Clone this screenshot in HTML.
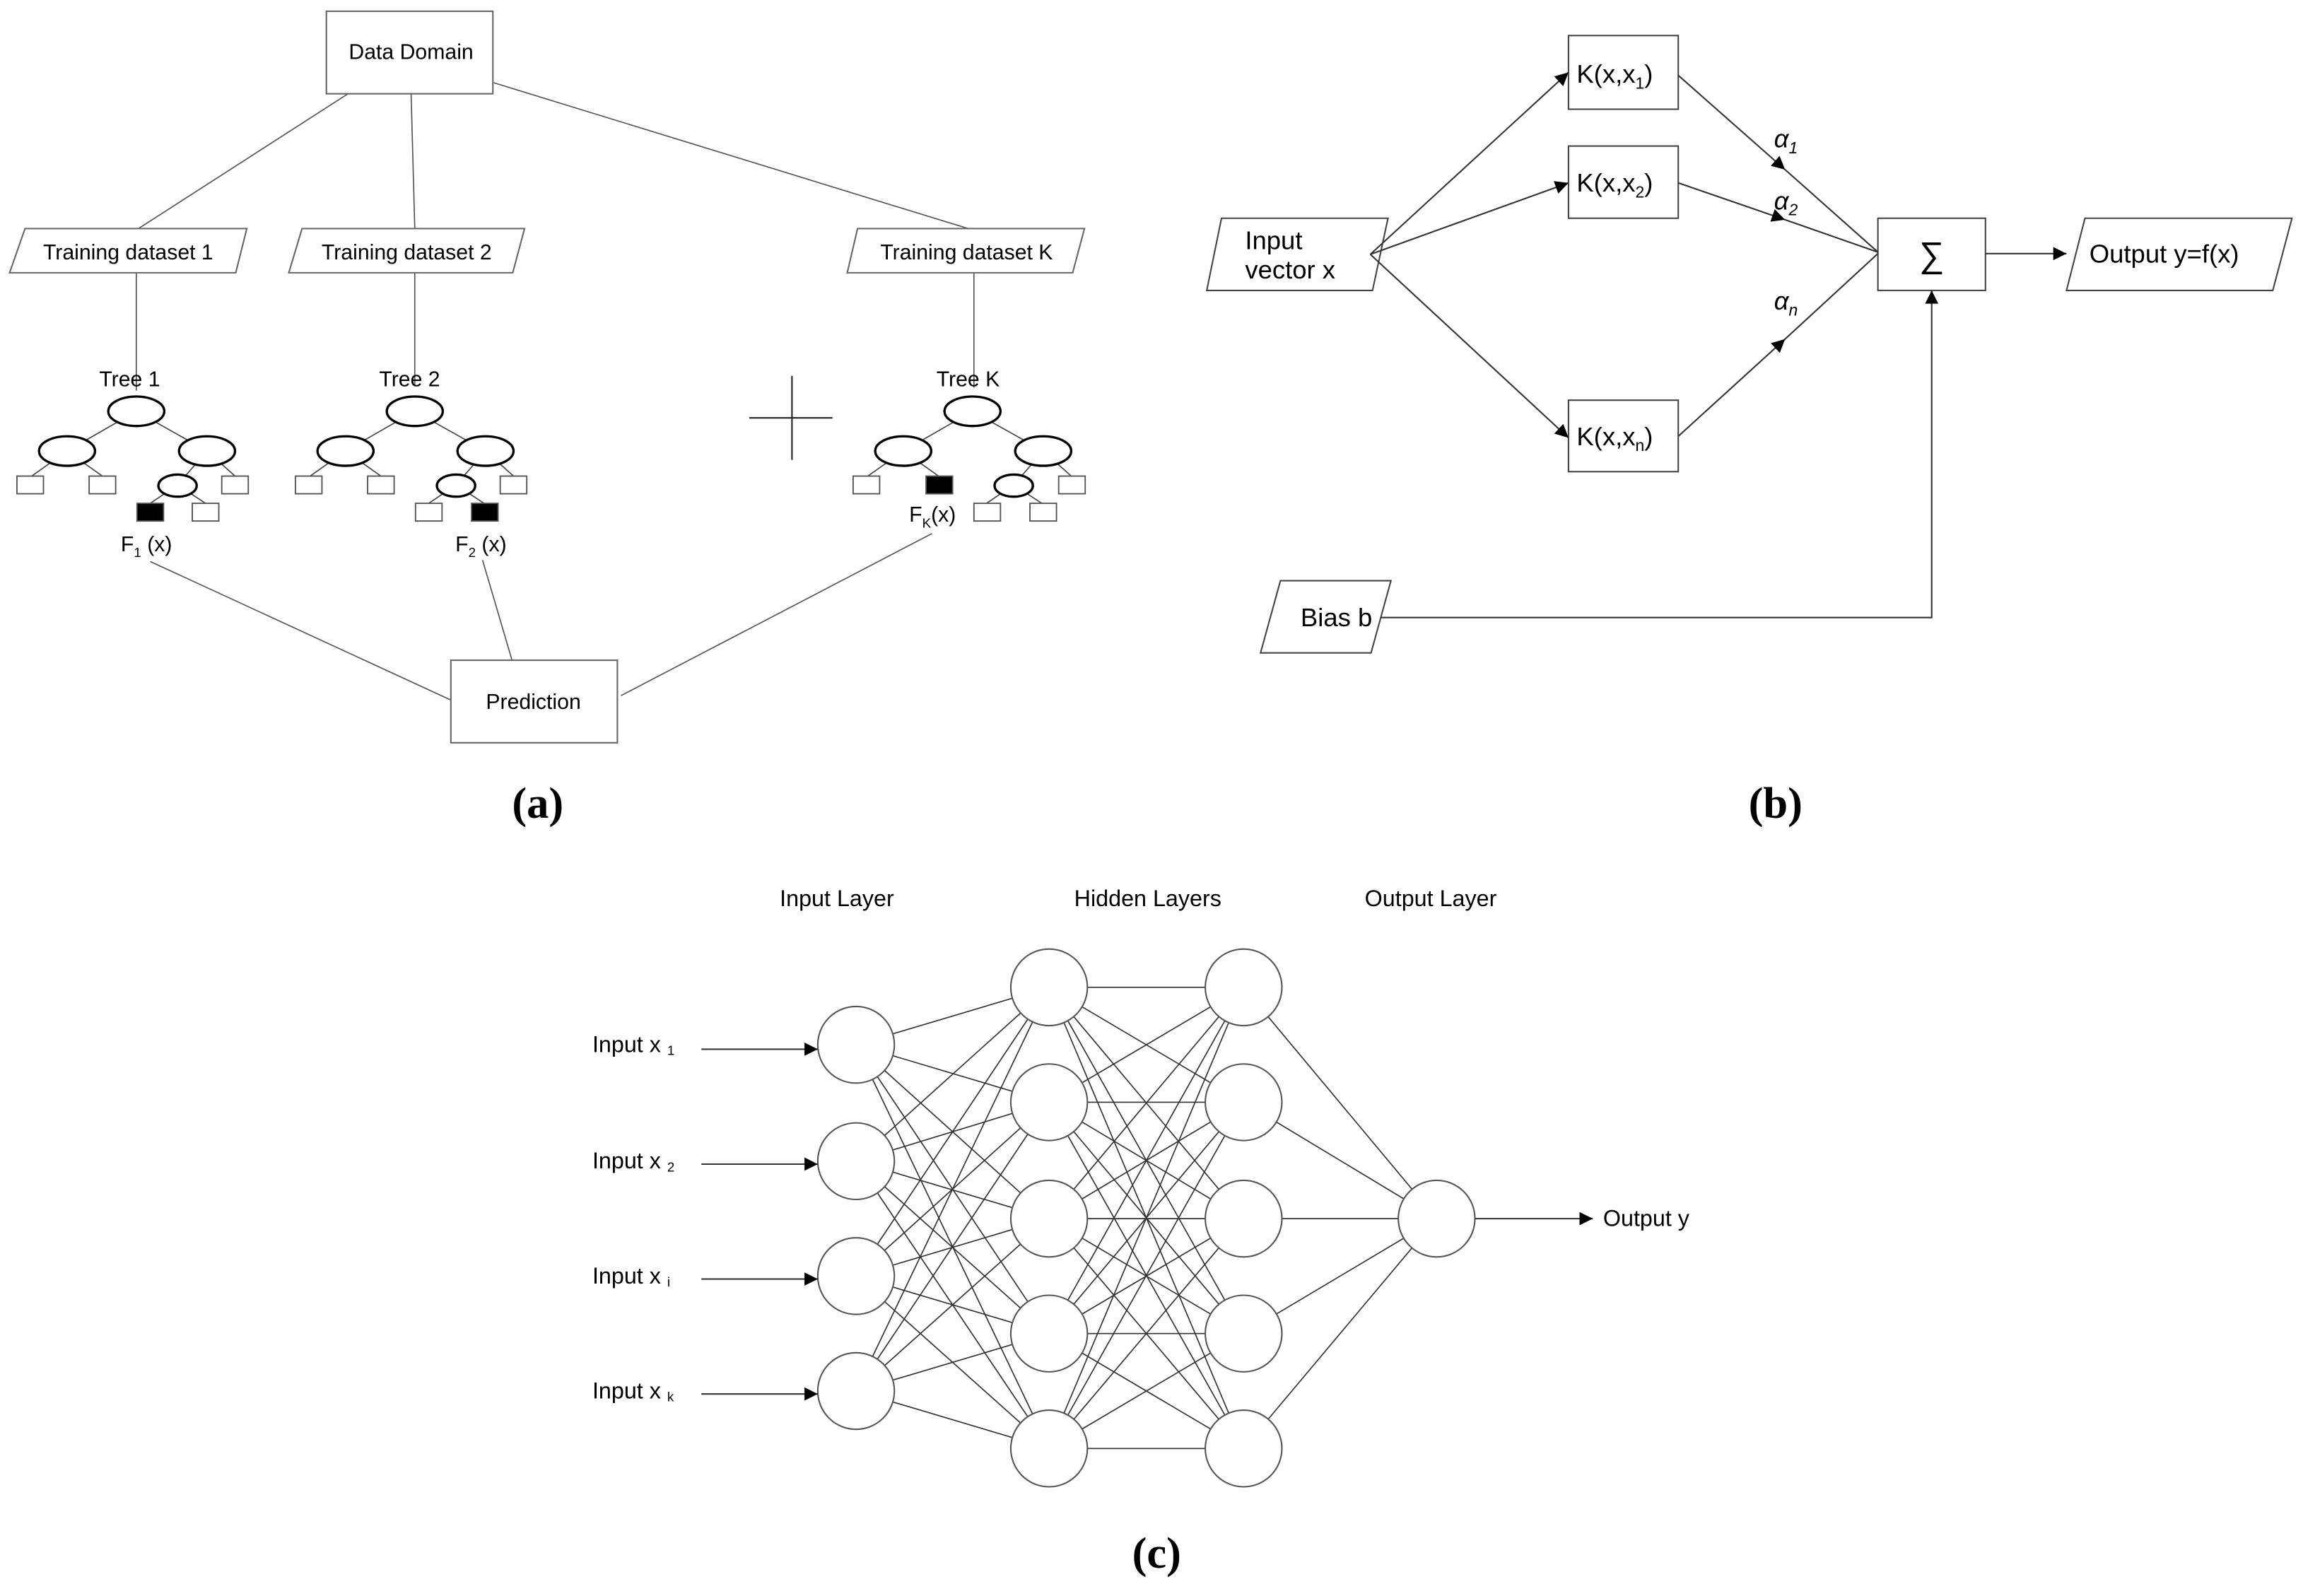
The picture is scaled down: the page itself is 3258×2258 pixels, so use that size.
<!DOCTYPE html>
<html><head><meta charset="utf-8"><style>
html,body{margin:0;padding:0;background:#fff;}
svg{display:block;}
text{font-family:"Liberation Sans",Arial,sans-serif;fill:#000;}
.lbl{font-family:"Liberation Serif",serif;font-weight:bold;font-size:30px;}
</style></head><body>
<svg width="3258" height="2258" viewBox="0 0 1563 1083" xmlns="http://www.w3.org/2000/svg">
<defs>
<marker id="ah" viewBox="0 0 10 10" refX="10" refY="5" markerWidth="11" markerHeight="9" markerUnits="userSpaceOnUse" orient="auto"><path d="M0,0 L10,5 L0,10 z" fill="#000"/></marker>
<g id="tree">
<g stroke="#444" stroke-width="0.8">
<line x1="0" y1="0" x2="-47" y2="27"/><line x1="0" y1="0" x2="48" y2="27"/>
<line x1="-47" y1="27" x2="-71" y2="44"/><line x1="-47" y1="27" x2="-23" y2="44"/>
<line x1="48" y1="27" x2="28" y2="50"/><line x1="48" y1="27" x2="67" y2="44"/>
<line x1="28" y1="50" x2="9.5" y2="62.5"/><line x1="28" y1="50" x2="47" y2="62.5"/>
</g>
<g fill="#fff" stroke="#000" stroke-width="1.6">
<ellipse cx="0" cy="0" rx="19" ry="10"/>
<ellipse cx="-47" cy="27" rx="19" ry="10"/>
<ellipse cx="48" cy="27" rx="19" ry="10"/>
<ellipse cx="28" cy="50.5" rx="13" ry="7.5"/>
</g>
</g>
</defs>

<!-- Panel (a) -->
<g stroke="#555" stroke-width="0.8" fill="none">
<line x1="237" y1="63" x2="94" y2="155"/>
<line x1="279" y1="63" x2="281.5" y2="155"/>
<line x1="335" y1="56" x2="657" y2="155"/>
<line x1="92.5" y1="185" x2="92.5" y2="265"/>
<line x1="281.5" y1="185" x2="281.5" y2="262"/>
<line x1="661" y1="185" x2="661" y2="263"/>
<line x1="102" y1="381" x2="306" y2="475"/>
<line x1="327.5" y1="380" x2="347.5" y2="448"/>
<line x1="632.5" y1="362" x2="421.5" y2="472"/>
</g>
<rect x="221.5" y="7.5" width="113" height="56" fill="#fff" stroke="#666" stroke-width="1"/>
<text x="279" y="40" font-size="14.5" text-anchor="middle">Data Domain</text>
<rect x="306" y="448" width="113" height="56" fill="#fff" stroke="#666" stroke-width="1"/>
<text x="362" y="481" font-size="14.5" text-anchor="middle">Prediction</text>
<g fill="#fff" stroke="#666" stroke-width="1">
<polygon points="17,155 167.5,155 160,185 6.5,185"/>
<polygon points="205,155 356,155 348,185 196,185"/>
<polygon points="582,155 736,155 728,185 575,185"/>
</g>
<g font-size="14.5" text-anchor="middle">
<text x="87" y="176">Training dataset 1</text>
<text x="276" y="176">Training dataset 2</text>
<text x="656" y="176">Training dataset K</text>
<text x="88" y="262">Tree 1</text>
<text x="278" y="262">Tree 2</text>
<text x="657" y="262">Tree K</text>
</g>
<use href="#tree" x="92.5" y="279"/>
<use href="#tree" x="281.5" y="279"/>
<use href="#tree" x="660" y="279"/>
<g stroke="#555" stroke-width="0.9">
<!-- tree 1 leaves -->
<rect x="11.5" y="323" width="18" height="12" fill="#fff"/>
<rect x="60.5" y="323" width="18" height="12" fill="#fff"/>
<rect x="150.5" y="323" width="18" height="12" fill="#fff"/>
<rect x="93" y="341.5" width="18" height="12" fill="#000"/>
<rect x="130.5" y="341.5" width="18" height="12" fill="#fff"/>
<!-- tree 2 -->
<rect x="200.5" y="323" width="18" height="12" fill="#fff"/>
<rect x="249.5" y="323" width="18" height="12" fill="#fff"/>
<rect x="339.5" y="323" width="18" height="12" fill="#fff"/>
<rect x="282" y="341.5" width="18" height="12" fill="#fff"/>
<rect x="320" y="341.5" width="18" height="12" fill="#000"/>
<!-- tree K -->
<rect x="579" y="323" width="18" height="12" fill="#fff"/>
<rect x="628.5" y="323" width="18" height="12" fill="#000"/>
<rect x="718.5" y="323" width="18" height="12" fill="#fff"/>
<rect x="661" y="341.5" width="18" height="12" fill="#fff"/>
<rect x="699" y="341.5" width="18" height="12" fill="#fff"/>
</g>
<g font-size="14.5">
<text x="82" y="374">F<tspan font-size="9" dy="4">1</tspan><tspan dy="-4"> (x)</tspan></text>
<text x="309" y="374">F<tspan font-size="9" dy="4">2</tspan><tspan dy="-4"> (x)</tspan></text>
<text x="617" y="354">F<tspan font-size="9" dy="4">K</tspan><tspan dy="-4">(x)</tspan></text>
</g>
<g stroke="#222" stroke-width="1">
<line x1="508.5" y1="283.5" x2="565" y2="283.5"/>
<line x1="537.5" y1="255" x2="537.5" y2="312"/>
</g>
<text class="lbl" x="365" y="555" text-anchor="middle">(a)</text>

<!-- Panel (b) -->
<g fill="#fff" stroke="#444" stroke-width="1">
<polygon points="829,148 942,148 931.5,197 819,197"/>
<rect x="1064.5" y="24" width="74.5" height="50"/>
<rect x="1064.5" y="99" width="74.5" height="49"/>
<rect x="1064.5" y="271.5" width="74.5" height="48.5"/>
<rect x="1274.5" y="148" width="73" height="49"/>
<polygon points="1415,148 1555.5,148 1542.5,197 1402.5,197"/>
<polygon points="869,394 944,394 930.5,443 855.5,443"/>
</g>
<g stroke="#333" stroke-width="1" fill="none">
<line x1="930" y1="172.5" x2="1064.5" y2="49" marker-end="url(#ah)"/>
<line x1="930" y1="172.5" x2="1064.5" y2="124" marker-end="url(#ah)"/>
<line x1="930" y1="172.5" x2="1064.5" y2="297" marker-end="url(#ah)"/>
<polyline points="1139,51 1211.5,115 1274.5,171" marker-mid="url(#ah)"/>
<polyline points="1139,124 1211.5,149 1274.5,171" marker-mid="url(#ah)"/>
<polyline points="1139,296 1211.5,230 1274.5,172" marker-mid="url(#ah)"/>
<line x1="1347.5" y1="172" x2="1402.5" y2="172" marker-end="url(#ah)"/>
<polyline points="937,419 1311,419 1311,197" marker-end="url(#ah)"/>
</g>
<g font-size="17.5">
<text x="845" y="169">Input</text>
<text x="845" y="189">vector x</text>
<text x="1070" y="56">K(x,x<tspan font-size="11" dy="4">1</tspan><tspan dy="-4">)</tspan></text>
<text x="1070" y="130">K(x,x<tspan font-size="11" dy="4">2</tspan><tspan dy="-4">)</tspan></text>
<text x="1070" y="302">K(x,x<tspan font-size="11" dy="4">n</tspan><tspan dy="-4">)</tspan></text>
<text x="1311" y="181" text-anchor="middle" font-size="24">∑</text>
<text x="1418" y="178">Output y=f(x)</text>
<text x="907" y="425" text-anchor="middle">Bias b</text>
<text x="1204" y="100" font-style="italic">α<tspan font-size="11" dy="4">1</tspan></text>
<text x="1204" y="142" font-style="italic">α<tspan font-size="11" dy="4">2</tspan></text>
<text x="1204" y="210" font-style="italic">α<tspan font-size="11" dy="4">n</tspan></text>
</g>
<text class="lbl" x="1205" y="555" text-anchor="middle">(b)</text>

<!-- Panel (c) -->
<g stroke="#333" stroke-width="0.8">
<!-- input -> hidden1 -->
<line x1="581" y1="709" x2="712" y2="670"/><line x1="581" y1="709" x2="712" y2="748"/><line x1="581" y1="709" x2="712" y2="827"/><line x1="581" y1="709" x2="712" y2="905"/><line x1="581" y1="709" x2="712" y2="983"/>
<line x1="581" y1="788" x2="712" y2="670"/><line x1="581" y1="788" x2="712" y2="748"/><line x1="581" y1="788" x2="712" y2="827"/><line x1="581" y1="788" x2="712" y2="905"/><line x1="581" y1="788" x2="712" y2="983"/>
<line x1="581" y1="866" x2="712" y2="670"/><line x1="581" y1="866" x2="712" y2="748"/><line x1="581" y1="866" x2="712" y2="827"/><line x1="581" y1="866" x2="712" y2="905"/><line x1="581" y1="866" x2="712" y2="983"/>
<line x1="581" y1="944" x2="712" y2="670"/><line x1="581" y1="944" x2="712" y2="748"/><line x1="581" y1="944" x2="712" y2="827"/><line x1="581" y1="944" x2="712" y2="905"/><line x1="581" y1="944" x2="712" y2="983"/>
<!-- hidden1 -> hidden2 -->
<line x1="712" y1="670" x2="844" y2="670"/><line x1="712" y1="670" x2="844" y2="748"/><line x1="712" y1="670" x2="844" y2="827"/><line x1="712" y1="670" x2="844" y2="905"/><line x1="712" y1="670" x2="844" y2="983"/>
<line x1="712" y1="748" x2="844" y2="670"/><line x1="712" y1="748" x2="844" y2="748"/><line x1="712" y1="748" x2="844" y2="827"/><line x1="712" y1="748" x2="844" y2="905"/><line x1="712" y1="748" x2="844" y2="983"/>
<line x1="712" y1="827" x2="844" y2="670"/><line x1="712" y1="827" x2="844" y2="748"/><line x1="712" y1="827" x2="844" y2="827"/><line x1="712" y1="827" x2="844" y2="905"/><line x1="712" y1="827" x2="844" y2="983"/>
<line x1="712" y1="905" x2="844" y2="670"/><line x1="712" y1="905" x2="844" y2="748"/><line x1="712" y1="905" x2="844" y2="827"/><line x1="712" y1="905" x2="844" y2="905"/><line x1="712" y1="905" x2="844" y2="983"/>
<line x1="712" y1="983" x2="844" y2="670"/><line x1="712" y1="983" x2="844" y2="748"/><line x1="712" y1="983" x2="844" y2="827"/><line x1="712" y1="983" x2="844" y2="905"/><line x1="712" y1="983" x2="844" y2="983"/>
<!-- hidden2 -> output -->
<line x1="844" y1="670" x2="975" y2="827"/><line x1="844" y1="748" x2="975" y2="827"/><line x1="844" y1="827" x2="975" y2="827"/><line x1="844" y1="905" x2="975" y2="827"/><line x1="844" y1="983" x2="975" y2="827"/>
</g>
<g fill="#fff" stroke="#555" stroke-width="1">
<circle cx="581" cy="709" r="26"/><circle cx="581" cy="788" r="26"/><circle cx="581" cy="866" r="26"/><circle cx="581" cy="944" r="26"/>
<circle cx="712" cy="670" r="26"/><circle cx="712" cy="748" r="26"/><circle cx="712" cy="827" r="26"/><circle cx="712" cy="905" r="26"/><circle cx="712" cy="983" r="26"/>
<circle cx="844" cy="670" r="26"/><circle cx="844" cy="748" r="26"/><circle cx="844" cy="827" r="26"/><circle cx="844" cy="905" r="26"/><circle cx="844" cy="983" r="26"/>
<circle cx="975" cy="827" r="26"/>
</g>
<g stroke="#333" stroke-width="1">
<line x1="476" y1="712" x2="555" y2="712" marker-end="url(#ah)"/>
<line x1="476" y1="790" x2="555" y2="790" marker-end="url(#ah)"/>
<line x1="476" y1="868" x2="555" y2="868" marker-end="url(#ah)"/>
<line x1="476" y1="946" x2="555" y2="946" marker-end="url(#ah)"/>
<line x1="1001" y1="827" x2="1081" y2="827" marker-end="url(#ah)"/>
</g>
<g font-size="15.5">
<text x="568" y="615" text-anchor="middle">Input Layer</text>
<text x="779" y="615" text-anchor="middle">Hidden Layers</text>
<text x="971" y="615" text-anchor="middle">Output Layer</text>
<text x="402" y="714">Input x <tspan font-size="9" dy="2">1</tspan></text>
<text x="402" y="793">Input x <tspan font-size="9" dy="2">2</tspan></text>
<text x="402" y="871">Input x <tspan font-size="9" dy="2">i</tspan></text>
<text x="402" y="949">Input x <tspan font-size="9" dy="2">k</tspan></text>
<text x="1088" y="832">Output y</text>
</g>
<text class="lbl" x="785" y="1064" text-anchor="middle">(c)</text>
</svg>
</body></html>
